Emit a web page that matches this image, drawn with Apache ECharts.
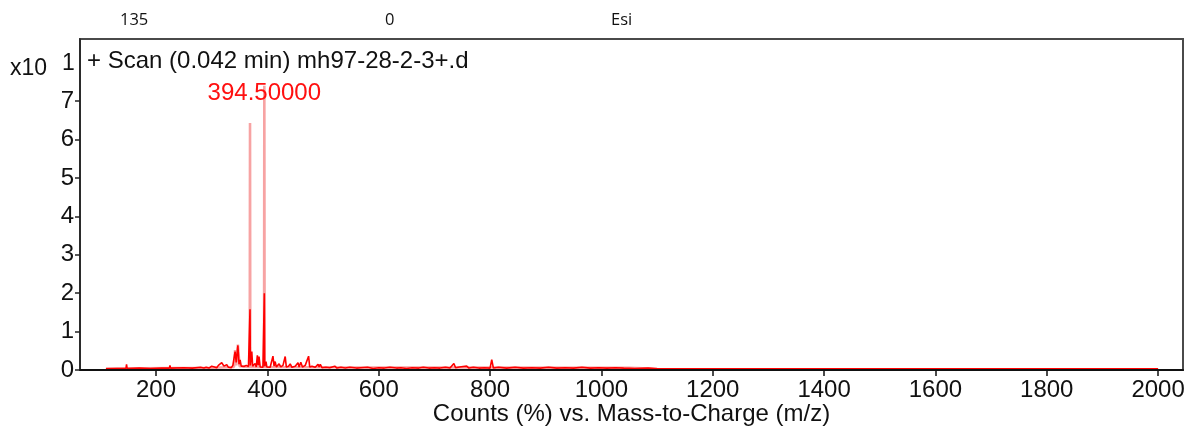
<!DOCTYPE html>
<html>
<head>
<meta charset="utf-8">
<script src="https://cdn.jsdelivr.net/npm/echarts@6/dist/echarts.min.js"></script>
<style>
  html, body { margin: 0; padding: 0; background: #fff; }
  #chart { width: 1189px; height: 427px; }
</style>
</head>
<body>
<div id="chart"></div>
<script>
// Mass spectrum, + Scan (0.042 min) mh97-28-2-3+.d, counts in units of 10 %
const headerLabels = ['135', '0', 'Esi'];
const xTickValues = [200, 400, 600, 800, 1000, 1200, 1400, 1600, 1800, 2000];
const yTickValues = [0, 1, 2, 3, 4, 5, 6, 7];

// Main trace: m/z and counts
const mzTrace = [
  110, 130, 146, 147, 148, 170, 190, 210, 224, 225, 226, 250, 265, 280, 286, 290, 295,
  300, 303, 305, 309, 312, 315, 318, 322, 325, 327, 330, 332, 335, 338, 340, 342, 344,
  347, 349, 351, 353, 356, 358, 360, 362, 364, 366, 368.2, 368.8, 369.4, 371, 372, 373.5,
  376, 378, 380, 382, 383.5, 385, 387, 390, 392, 393.9, 394.5, 395.1, 397.5, 399, 402,
  405, 407, 410, 412, 414, 416, 418, 421, 424, 428, 430, 432, 434, 438, 441, 444, 447,
  450, 455, 457, 460, 463, 468, 471, 474, 476, 480, 483, 486, 491, 493, 495, 498, 505,
  512, 521, 525, 532, 540, 548, 560, 568, 580, 590, 600, 610, 620, 632, 640, 650, 660,
  672, 680, 690, 700, 710, 720, 728, 735, 738, 745, 758, 762, 770, 780, 790, 800, 803,
  806, 815, 830, 845, 860, 875, 890, 905, 920, 935, 950, 965, 980, 995, 1010, 1025,
  1040, 1060, 1084, 1100, 2000
];
const countsTrace = [
  0.03, 0.04, 0.04, 0.15, 0.04, 0.05, 0.04, 0.05, 0.05, 0.12, 0.05, 0.06, 0.05, 0.07, 0.05, 0.07, 0.05,
  0.10, 0.06, 0.08, 0.06, 0.12, 0.07, 0.19, 0.10, 0.07, 0.14, 0.07, 0.09, 0.06, 0.12, 0.10, 0.48, 0.20,
  0.64, 0.15, 0.26, 0.10, 0.07, 0.09, 0.06, 0.12, 0.07, 0.09, 0.10, 1.58, 0.12, 0.10, 0.48, 0.10,
  0.08, 0.17, 0.08, 0.38, 0.12, 0.35, 0.08, 0.10, 0.07, 0.08, 2.00, 0.10, 0.22, 0.08, 0.13,
  0.07, 0.09, 0.36, 0.10, 0.22, 0.08, 0.10, 0.16, 0.08, 0.12, 0.07, 0.35, 0.08, 0.10, 0.16, 0.07, 0.09,
  0.10, 0.19, 0.08, 0.20, 0.08, 0.12, 0.07, 0.36, 0.08, 0.10, 0.13, 0.07, 0.15, 0.08, 0.15, 0.06, 0.07,
  0.06, 0.10, 0.05, 0.07, 0.05, 0.07, 0.05, 0.06, 0.07, 0.04, 0.06, 0.05, 0.07, 0.05, 0.06, 0.04, 0.06,
  0.05, 0.07, 0.05, 0.06, 0.05, 0.07, 0.05, 0.17, 0.06, 0.08, 0.10, 0.05, 0.07, 0.05, 0.06, 0.05, 0.27,
  0.05, 0.07, 0.05, 0.07, 0.05, 0.06, 0.05, 0.07, 0.05, 0.06, 0.05, 0.07, 0.05, 0.06, 0.05, 0.06,
  0.05, 0.04, 0.05, 0.03, 0.03
];

// Lighter overlay trace: m/z and counts
const mzOverlay = [
  110, 300, 340, 342, 344, 347, 350, 368.3, 368.8, 369.3, 394.0, 394.5, 395.0, 520, 1050, 1100
];
const countsOverlay = [
  0.04, 0.06, 0.08, 0.52, 0.12, 0.66, 0.10, 0.08, 6.43, 0.08, 0.08, 7.40, 0.08, 0.07, 0.06, 0.03
];
const labelledMz = 394.5;

const traceData = mzTrace.map((m, i) => [m, countsTrace[i]]);
const overlayData = mzOverlay.map((m, i) => [m, countsOverlay[i]]);
const labelledPoint = overlayData.filter(d => d[0] === labelledMz);

const chart = echarts.init(document.getElementById('chart'), null, { renderer: 'canvas' });
const textFont = 'Liberation Sans, Arial, sans-serif';
const plain = v => String(v);

chart.setOption({
  animation: false,
  backgroundColor: '#fff',
  grid: {
    left: 80, top: 39, right: 6, bottom: 57,
    show: true, borderColor: '#4a4a4a', borderWidth: 2,
    outerBoundsMode: 'none'
  },
  xAxis: {
    type: 'value',
    min: 63.4, max: 2044.7,
    splitLine: { show: false },
    axisLine: { show: true, onZero: false, lineStyle: { color: '#111', width: 2 } },
    axisTick: { show: true, customValues: xTickValues, length: 6, lineStyle: { color: '#111', width: 1.5 } },
    axisLabel: {
      customValues: xTickValues, formatter: plain,
      color: '#111', fontSize: 24, fontFamily: textFont, margin: 8
    },
    name: 'Counts (%) vs. Mass-to-Charge (m/z)',
    nameLocation: 'middle', nameGap: 32,
    nameMoveOverlap: false,
    nameTextStyle: { color: '#111', fontSize: 24, fontFamily: textFont },
    z: 5
  },
  yAxis: {
    type: 'value',
    min: 0, max: 8.62,
    splitLine: { show: false },
    axisLine: { show: true, onZero: false, lineStyle: { color: '#222', width: 1.5 } },
    axisTick: { show: true, customValues: yTickValues, length: 5, lineStyle: { color: '#222', width: 1.5 } },
    axisLabel: {
      customValues: yTickValues, formatter: plain,
      color: '#111', fontSize: 24, fontFamily: textFont, margin: 6
    },
    z: 5
  },
  series: [
    {
      name: 'overlay',
      type: 'line',
      data: overlayData,
      showSymbol: false,
      symbol: 'none',
      lineStyle: { color: '#f7a3a3', width: 2.6 },
      z: 2
    },
    {
      name: 'trace',
      type: 'line',
      data: traceData,
      showSymbol: false,
      symbol: 'none',
      lineStyle: { color: '#ff0000', width: 1.6 },
      z: 3
    },
    {
      // peak annotation at the base peak
      name: 'peak label',
      type: 'scatter',
      data: labelledPoint,
      symbolSize: 0,
      silent: true,
      itemStyle: { opacity: 1 },
      label: {
        show: true,
        position: 'top',
        distance: 0,
        offset: [0, 20],
        formatter: p => p.value[0].toFixed(5),
        color: '#ff1010',
        opacity: 1,
        fontFamily: textFont,
        fontSize: 24
      },
      z: 6
    }
  ],
  graphic: [
    { type: 'text', left: 120, top: 12, style: { text: headerLabels[0], font: '16.5px "Open Sans", sans-serif', fill: '#111' } },
    { type: 'text', left: 385, top: 12, style: { text: headerLabels[1], font: '16.5px "Open Sans", sans-serif', fill: '#111' } },
    { type: 'text', left: 611, top: 12, style: { text: headerLabels[2], font: '16.5px "Open Sans", sans-serif', fill: '#111' } },
    { type: 'text', left: 10, top: 57, style: { text: 'x10', font: '23px ' + textFont, fill: '#111' } },
    { type: 'text', left: 62, top: 52, style: { text: '1', font: '23px ' + textFont, fill: '#111' } },
    { type: 'text', left: 87, top: 49, style: { text: '+ Scan (0.042 min) mh97-28-2-3+.d', font: '24px ' + textFont, fill: '#111' } }
  ]
});
</script>
</body>
</html>
